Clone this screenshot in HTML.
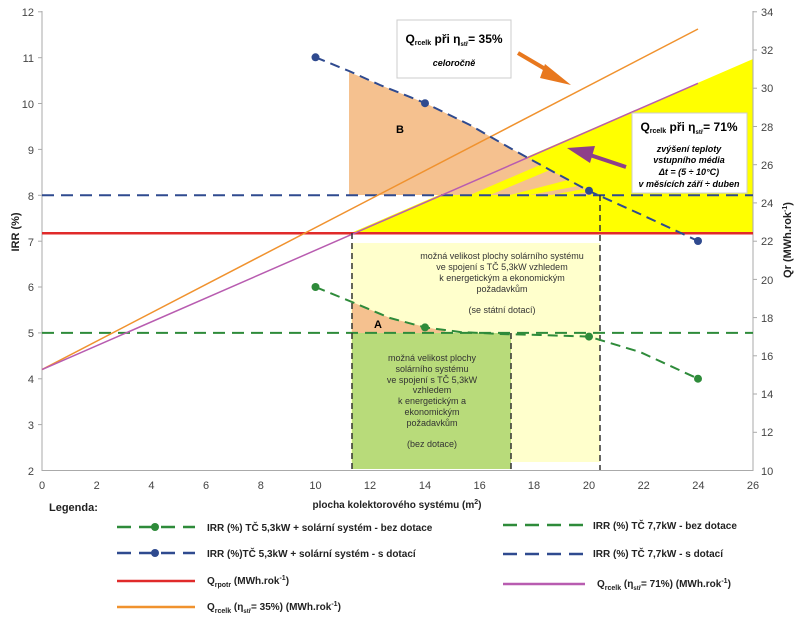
<!DOCTYPE html>
<html><head><meta charset="utf-8"><style>
body{margin:0;background:#fff}
svg{display:block;font-family:"Liberation Sans",sans-serif}
</style></head><body>
<svg width="800" height="623" viewBox="0 0 800 623" xmlns="http://www.w3.org/2000/svg">
<polygon points="351,233 753,59 753,233" fill="#ffff00"/>
<polygon points="349,72 380,85 425,103 470,125 510,148 550,170 589,191 592,195 349,195" fill="#f5c18f"/>
<polygon points="470,195 540,165 550,170 490,195" fill="#ffff00"/>
<polygon points="510,195 568,180 578,186 530,195" fill="#ffff00"/>
<polygon points="552,195 583,189 588,192 570,195" fill="#ffff00"/>
<rect x="351" y="243" width="249" height="219" fill="#ffffcc"/>
<polygon points="352,302 390,318 425,327 445,331 445,333 352,333" fill="#f5c18f"/>
<rect x="352" y="333" width="159" height="136" fill="#b8db7a"/>
<g stroke="#aaa" stroke-width="1" fill="none">
<line x1="42" y1="11" x2="42" y2="471"/>
<line x1="753" y1="11" x2="753" y2="471"/>
<line x1="42" y1="470.5" x2="753" y2="470.5"/>
</g>
<g stroke="#aaa" stroke-width="1">
<line x1="38" y1="11.8" x2="42" y2="11.8"/><line x1="38" y1="57.7" x2="42" y2="57.7"/><line x1="38" y1="103.5" x2="42" y2="103.5"/><line x1="38" y1="149.4" x2="42" y2="149.4"/><line x1="38" y1="195.3" x2="42" y2="195.3"/><line x1="38" y1="241.2" x2="42" y2="241.2"/><line x1="38" y1="287" x2="42" y2="287"/><line x1="38" y1="332.9" x2="42" y2="332.9"/><line x1="38" y1="378.8" x2="42" y2="378.8"/><line x1="38" y1="424.6" x2="42" y2="424.6"/>
<line x1="753" y1="11.8" x2="757" y2="11.8"/><line x1="753" y1="50" x2="757" y2="50"/><line x1="753" y1="88.2" x2="757" y2="88.2"/><line x1="753" y1="126.5" x2="757" y2="126.5"/><line x1="753" y1="164.7" x2="757" y2="164.7"/><line x1="753" y1="202.9" x2="757" y2="202.9"/><line x1="753" y1="241.2" x2="757" y2="241.2"/><line x1="753" y1="279.4" x2="757" y2="279.4"/><line x1="753" y1="317.6" x2="757" y2="317.6"/><line x1="753" y1="355.8" x2="757" y2="355.8"/><line x1="753" y1="394" x2="757" y2="394"/><line x1="753" y1="432.3" x2="757" y2="432.3"/>
</g>
<g font-size="11" fill="#444" text-anchor="end">
<text x="34" y="16">12</text><text x="34" y="62">11</text><text x="34" y="108">10</text><text x="34" y="154">9</text><text x="34" y="200">8</text><text x="34" y="246">7</text><text x="34" y="291">6</text><text x="34" y="337">5</text><text x="34" y="383">4</text><text x="34" y="429">3</text><text x="34" y="475">2</text>
</g>
<g font-size="11" fill="#444">
<text x="761" y="16">34</text><text x="761" y="54">32</text><text x="761" y="92">30</text><text x="761" y="131">28</text><text x="761" y="169">26</text><text x="761" y="207">24</text><text x="761" y="245">22</text><text x="761" y="284">20</text><text x="761" y="322">18</text><text x="761" y="360">16</text><text x="761" y="398">14</text><text x="761" y="436">12</text><text x="761" y="475">10</text>
</g>
<g font-size="11" fill="#444" text-anchor="middle">
<text x="42" y="489">0</text><text x="96.7" y="489">2</text><text x="151.4" y="489">4</text><text x="206" y="489">6</text><text x="260.8" y="489">8</text><text x="315.5" y="489">10</text><text x="370" y="489">12</text><text x="425" y="489">14</text><text x="479.6" y="489">16</text><text x="534" y="489">18</text><text x="589" y="489">20</text><text x="643.7" y="489">22</text><text x="698.4" y="489">24</text><text x="753" y="489">26</text>
</g>
<text x="397" y="508" font-size="10" font-weight="bold" text-anchor="middle" fill="#222">plocha kolektorového systému (m<tspan font-size="7" dy="-4">2</tspan><tspan dy="4">)</tspan></text>
<text transform="translate(19,232) rotate(-90)" font-size="11" font-weight="bold" text-anchor="middle" fill="#222">IRR (%)</text>
<text transform="translate(791,240) rotate(-90)" font-size="11" font-weight="bold" text-anchor="middle" fill="#222">Qr (MWh.rok<tspan font-size="7" dy="-4">-1</tspan><tspan dy="4">)</tspan></text>
<line x1="42" y1="195.3" x2="753" y2="195.3" stroke="#2f4a8f" stroke-width="2" stroke-dasharray="12,7"/>
<line x1="42" y1="332.9" x2="753" y2="332.9" stroke="#2e8b3a" stroke-width="2" stroke-dasharray="12,7"/>
<line x1="42" y1="233.3" x2="753" y2="233.3" stroke="#e02a2a" stroke-width="2.5"/>
<line x1="42" y1="369.6" x2="698" y2="29" stroke="#f0922e" stroke-width="1.5"/>
<line x1="42" y1="369.6" x2="698" y2="83.3" stroke="#b85cb0" stroke-width="1.5"/>
<g stroke="#333" stroke-width="1.5" stroke-dasharray="6,4" fill="none">
<line x1="352" y1="233" x2="352" y2="470"/>
<line x1="511" y1="333" x2="511" y2="470"/>
<line x1="600" y1="195" x2="600" y2="470"/>
</g>
<polyline points="315.5,57.3 349,71 380,85 425,103 470,125 510,148 550,170 589,191 640,214 698,241" fill="none" stroke="#2f4a8f" stroke-width="2" stroke-dasharray="10,6"/>
<polyline points="315.5,287 352,302 390,318 425,327.4 460,332 500,334 540,335 589,336.6 640,352 698,378.7" fill="none" stroke="#2e8b3a" stroke-width="2" stroke-dasharray="10,6"/>
<g fill="#2f4a8f"><circle cx="315.5" cy="57.3" r="4"/><circle cx="425" cy="103.2" r="4"/><circle cx="589" cy="190.7" r="4"/><circle cx="698" cy="241" r="4"/></g>
<g fill="#2e8b3a"><circle cx="315.5" cy="287" r="4"/><circle cx="425" cy="327.4" r="4"/><circle cx="589" cy="336.6" r="4"/><circle cx="698" cy="378.7" r="4"/></g>
<text x="396" y="133" font-size="11" font-weight="bold">B</text>
<text x="374" y="328" font-size="11" font-weight="bold">A</text>
<g font-size="9" fill="#333" text-anchor="middle">
<text x="502" y="259">možná velikost plochy solárního systému</text>
<text x="502" y="270">ve spojení s TČ 5,3kW vzhledem</text>
<text x="502" y="281">k energetickým a ekonomickým</text>
<text x="502" y="292">požadavkům</text>
<text x="502" y="313">(se státní dotací)</text>
<text x="432" y="361">možná velikost plochy</text>
<text x="432" y="372">solárního systému</text>
<text x="432" y="383">ve spojení s TČ 5,3kW</text>
<text x="432" y="393">vzhledem</text>
<text x="432" y="404">k energetickým a</text>
<text x="432" y="415">ekonomickým</text>
<text x="432" y="426">požadavkům</text>
<text x="432" y="447">(bez dotace)</text>
</g>
<rect x="397" y="20" width="114" height="58" fill="#fff" stroke="#ccc"/>
<text x="454" y="43" font-size="12" font-weight="bold" text-anchor="middle">Q<tspan font-size="7" dy="2">rcelk</tspan><tspan dy="-2"> při η</tspan><tspan font-size="6" dy="3">stř</tspan><tspan dy="-3">= 35%</tspan></text>
<text x="454" y="66" font-size="9" font-weight="bold" font-style="italic" text-anchor="middle">celoročně</text>
<rect x="632" y="113" width="115" height="80" fill="#fff" stroke="#ccc"/>
<text x="689" y="131" font-size="12" font-weight="bold" text-anchor="middle">Q<tspan font-size="7" dy="2">rcelk</tspan><tspan dy="-2"> při η</tspan><tspan font-size="6" dy="3">stř</tspan><tspan dy="-3">= 71%</tspan></text>
<g font-size="9" font-weight="bold" font-style="italic" text-anchor="middle">
<text x="689" y="152">zvýšení teploty</text>
<text x="689" y="163">vstupního média</text>
<text x="689" y="175">Δt = (5 ÷ 10°C)</text>
<text x="689" y="187">v měsících září ÷ duben</text>
</g>
<line x1="518" y1="53" x2="552" y2="73" stroke="#e8781e" stroke-width="4"/>
<polygon points="545,64 571,85 540,78" fill="#e8781e"/>
<line x1="626" y1="167" x2="590" y2="155" stroke="#8e3f8a" stroke-width="4"/>
<polygon points="595,146 567,148 590,163" fill="#8e3f8a"/>
<text x="49" y="511" font-size="11" font-weight="bold" fill="#222">Legenda:</text>
<g font-size="10" font-weight="bold" fill="#222">
<line x1="117" y1="527" x2="195" y2="527" stroke="#2e8b3a" stroke-width="2.5" stroke-dasharray="14,8"/>
<circle cx="155" cy="527" r="4" fill="#2e8b3a"/>
<text x="207" y="531">IRR (%) TČ 5,3kW + solární systém - bez dotace</text>
<line x1="117" y1="553" x2="195" y2="553" stroke="#2f4a8f" stroke-width="2.5" stroke-dasharray="14,8"/>
<circle cx="155" cy="553" r="4" fill="#2f4a8f"/>
<text x="207" y="557">IRR (%)TČ 5,3kW + solární systém  - s dotací</text>
<line x1="117" y1="581" x2="195" y2="581" stroke="#e02a2a" stroke-width="2.5"/>
<text x="207" y="584">Q<tspan font-size="7" dy="3">rpotr</tspan><tspan dy="-3"> (MWh.rok</tspan><tspan font-size="7" dy="-4">-1</tspan><tspan dy="4">)</tspan></text>
<line x1="117" y1="607" x2="195" y2="607" stroke="#f0922e" stroke-width="2.5"/>
<text x="207" y="610">Q<tspan font-size="7" dy="3">rcelk</tspan><tspan dy="-3"> (η</tspan><tspan font-size="6" dy="3">stř</tspan><tspan dy="-3">= 35%) (MWh.rok</tspan><tspan font-size="7" dy="-4">-1</tspan><tspan dy="4">)</tspan></text>
<line x1="503" y1="525" x2="585" y2="525" stroke="#2e8b3a" stroke-width="2.5" stroke-dasharray="14,8"/>
<text x="593" y="529">IRR (%) TČ 7,7kW - bez dotace</text>
<line x1="503" y1="554" x2="585" y2="554" stroke="#2f4a8f" stroke-width="2.5" stroke-dasharray="14,8"/>
<text x="593" y="557">IRR (%) TČ 7,7kW - s dotací</text>
<line x1="503" y1="584" x2="585" y2="584" stroke="#b85cb0" stroke-width="2.5"/>
<text x="597" y="587">Q<tspan font-size="7" dy="3">rcelk</tspan><tspan dy="-3"> (η</tspan><tspan font-size="6" dy="3">stř</tspan><tspan dy="-3">= 71%) (MWh.rok</tspan><tspan font-size="7" dy="-4">-1</tspan><tspan dy="4">)</tspan></text>
</g>
</svg>
</body></html>
